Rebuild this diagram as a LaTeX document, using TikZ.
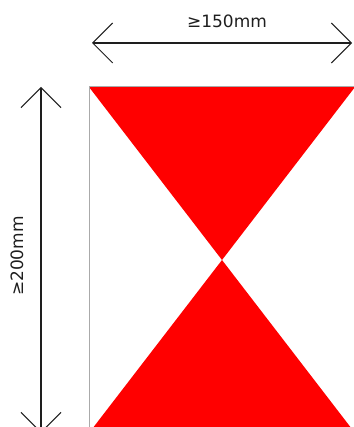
\documentclass[tikz,border=0pt]{standalone}
\usepackage{fontspec}
\setmainfont{DejaVu Sans}
\usetikzlibrary{arrows.meta}
\definecolor{senalrojo}{RGB}{255,0,0}
\definecolor{bordegris}{RGB}{170,170,170}
\definecolor{cotagris}{RGB}{30,30,30}
\tikzset{
  cota/.style={{Straight Barb[length=20pt,width=40pt,line width=1pt]}-{Straight Barb[length=20pt,width=40pt,line width=1pt]},cotagris,line width=1.4pt},
  textocota/.style={font=\fontsize{17}{19}\selectfont,text=cotagris,inner sep=0pt},
  triangulo/.style={fill=senalrojo},
}
\begin{document}
\begin{tikzpicture}[x=1pt,y=-1pt]
  \useasboundingbox (0,0) rectangle (353,427);
  % placa
  \coordinate (so) at (89,87);
  \coordinate (se) at (355,87);
  \coordinate (ie) at (355,433);
  \coordinate (io) at (89,433);
  \coordinate (centro) at (222,260);
  \fill[white] (so) rectangle (ie);
  \fill[triangulo] (so)--(se)--(centro)--cycle;
  \fill[triangulo] (io)--(ie)--(centro)--cycle;
  \draw[bordegris,line width=1pt] (so) rectangle (ie);
  % cotas
  \coordinate (h1) at (92,43);
  \coordinate (h2) at (352,43);
  \coordinate (v1) at (41,87);
  \coordinate (v2) at (41,433);
  \draw[cota] (h1)--(h2);
  \draw[cota] (v1)--(v2);
  \node[textocota] (ancho) at (227,21) {≥150mm};
  \node[textocota,rotate=90] (alto) at (17,256) {≥200mm};
\end{tikzpicture}
\end{document}
